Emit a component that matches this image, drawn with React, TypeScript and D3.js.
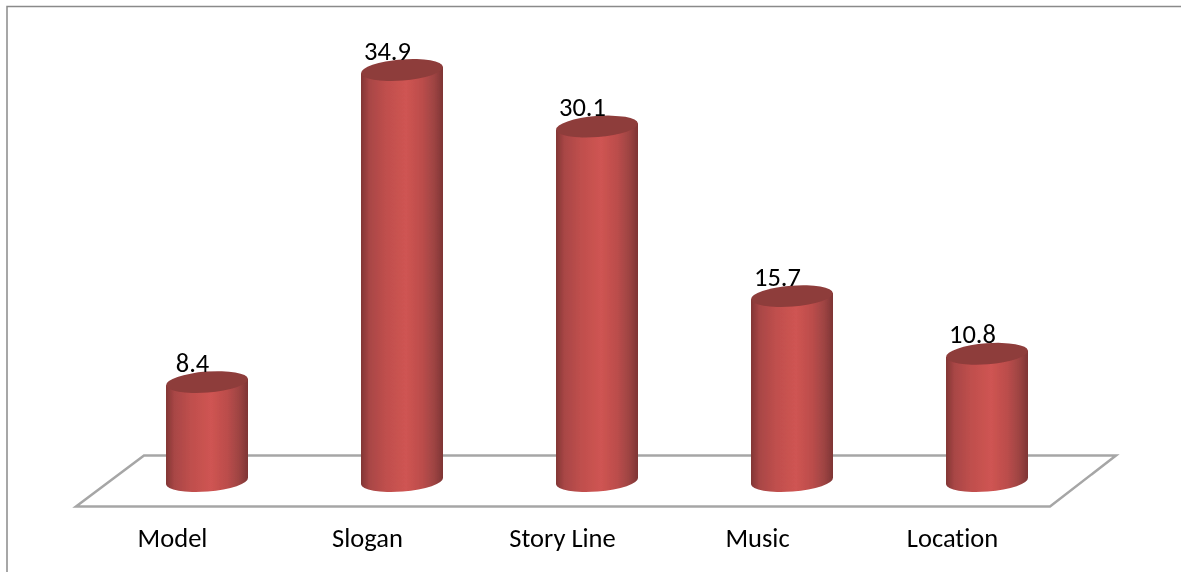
import React from "react";
import * as d3 from "d3";

const categories = ["Model", "Slogan", "Story Line", "Music", "Location"];
const values = [8.4, 34.9, 30.1, 15.7, 10.8];
const valueLabels = ["8.4", "34.9", "30.1", "15.7", "10.8"];

const W = 1181;
const H = 572;
const font = "Carlito, Calibri, Lato, 'Open Sans', sans-serif";

const x = d3.scaleBand<string>().domain(categories).range([109.5, 1084.5]).padding(0);
const y = d3.scaleLinear().domain([0, 34.9]).range([481, 70]);
const RX = 41;
const RY = 10.5;
const TILT = -4.5;
const dy = Math.tan((TILT * Math.PI) / 180) * RX;

export default function App() {
  return (
    <svg
      width={W}
      height={H}
      viewBox={`0 0 ${W} ${H}`}
      style={{ position: "fixed", left: 0, top: 0, display: "block", background: "#fff" }}
    >
      <defs>
        <linearGradient id="side" x1="0" x2="1" y1="0" y2="0">
          <stop offset="0" stopColor="#823635" />
          <stop offset="0.1" stopColor="#a84645" />
          <stop offset="0.3" stopColor="#bf4f4d" />
          <stop offset="0.55" stopColor="#cf5452" />
          <stop offset="0.75" stopColor="#bb4d4b" />
          <stop offset="0.9" stopColor="#9c4342" />
          <stop offset="1" stopColor="#7e3534" />
        </linearGradient>
        <filter id="soft" x="-5%" y="-5%" width="110%" height="110%">
          <feGaussianBlur stdDeviation="0.45" />
        </filter>
      </defs>
      <path d="M7,572 L7,6.5 L1181,6.5" fill="none" stroke="#8a8a8a" strokeWidth={1.5} />
      <g filter="url(#soft)">
        <path
          d="M144,455.5 L1116,455.5 L1050,506.5 L76,506.5 Z"
          fill="#fff"
          stroke="#a6a6a6"
          strokeWidth={2.5}
        />
        {categories.map((c, i) => {
          const cx = (x(c) as number) + x.bandwidth() / 2;
          const top = y(values[i]);
          const base = y(0);
          return (
            <g key={c}>
              <path
                d={`M${cx - RX},${top - dy} L${cx + RX},${top + dy} L${cx + RX},${base + dy} A${RX},${RY} ${TILT} 0 1 ${cx - RX},${base - dy} Z`}
                fill="url(#side)"
              />
              <ellipse
                cx={cx}
                cy={top}
                rx={RX}
                ry={RY}
                fill="#8e3c3b"
                transform={`rotate(${TILT} ${cx} ${top})`}
              />
              <text
                x={cx - 14.5}
                y={top - 10.5}
                textAnchor="middle"
                fontFamily={font}
                fontSize={26.5}
                fill="#000"
                style={{ fontVariantLigatures: "none" }}
              >
                {valueLabels[i]}
              </text>
              <text
                x={cx - 34.5}
                y={547}
                textAnchor="middle"
                fontFamily={font}
                fontSize={26.5}
                fill="#000"
                style={{ fontVariantLigatures: "none" }}
              >
                {c}
              </text>
            </g>
          );
        })}
      </g>
    </svg>
  );
}
